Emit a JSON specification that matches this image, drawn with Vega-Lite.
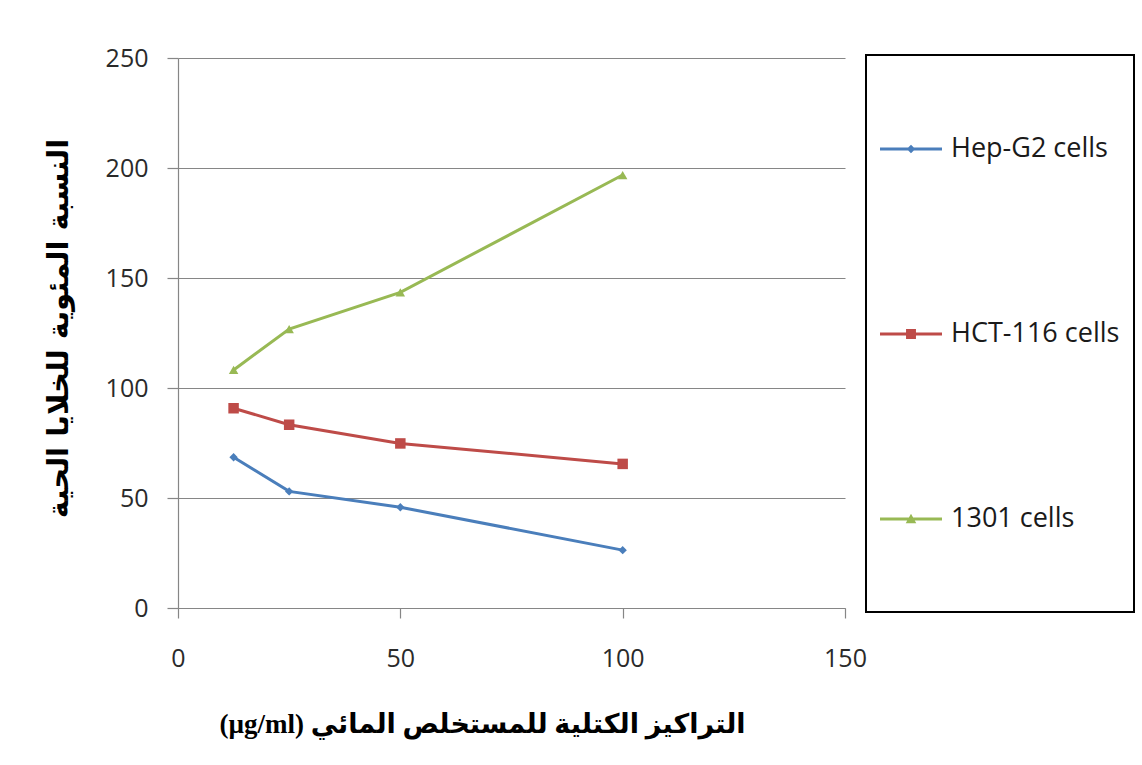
{
  "$schema": "https://vega.github.io/schema/vega-lite/v6.json",
  "width": 667,
  "height": 550,
  "autosize": {"type": "none"},
  "padding": {"left": 178, "top": 58, "right": 297, "bottom": 157},
  "background": "white",
  "config": {
    "view": {"stroke": null},
    "font": "Open Sans",
    "legend": {"strokeWidth": 2},
    "style": {"guide-label": {"lineHeight": 66}}
  },
  "data": {
    "values": [
      {"series": "Hep-G2 cells", "conc": 12.5, "value": 68.5},
      {"series": "Hep-G2 cells", "conc": 25, "value": 53},
      {"series": "Hep-G2 cells", "conc": 50, "value": 45.8},
      {"series": "Hep-G2 cells", "conc": 100, "value": 26.3},
      {"series": "HCT-116 cells", "conc": 12.5, "value": 90.8},
      {"series": "HCT-116 cells", "conc": 25, "value": 83.3},
      {"series": "HCT-116 cells", "conc": 50, "value": 74.8},
      {"series": "HCT-116 cells", "conc": 100, "value": 65.5},
      {"series": "1301 cells", "conc": 12.5, "value": 108.2},
      {"series": "1301 cells", "conc": 25, "value": 126.8},
      {"series": "1301 cells", "conc": 50, "value": 143.5},
      {"series": "1301 cells", "conc": 100, "value": 196.8}
    ]
  },
  "encoding": {
    "x": {
      "field": "conc", "type": "quantitative",
      "scale": {"domain": [0, 150], "nice": false, "zero": true},
      "axis": {
        "values": [0, 50, 100, 150], "grid": false,
        "domainColor": "#868686", "domainWidth": 1.2,
        "tickColor": "#868686", "tickSize": 10, "tickWidth": 1.2,
        "labelFont": "Open Sans", "labelFontSize": 25, "labelColor": "#2a2a2a",
        "labelPadding": 28, "labelFlush": false,
        "title": "(µg/ml) التراكيز الكتلية للمستخلص المائي",
        "titleFont": "'Liberation Serif', 'DejaVu Sans'",
        "titleFontSize": 27, "titleFontWeight": "bold", "titleColor": "#000000",
        "titleX": 304, "titleY": 116, "titleAlign": "center", "titleBaseline": "middle"
      }
    },
    "y": {
      "field": "value", "type": "quantitative",
      "scale": {"domain": [0, 250], "nice": false},
      "axis": {
        "values": [0, 50, 100, 150, 200, 250],
        "grid": true, "gridColor": "#868686", "gridWidth": 1.2,
        "domainColor": "#868686", "domainWidth": 1.2,
        "tickColor": "#868686", "tickSize": 11, "tickWidth": 1.2,
        "labelFont": "Open Sans", "labelFontSize": 25, "labelColor": "#2a2a2a",
        "labelPadding": 19,
        "title": "النسبة المئوية للخلايا الحية",
        "titleFont": "'DejaVu Sans'",
        "titleFontSize": 29, "titleFontWeight": "bold", "titleColor": "#000000",
        "titleAngle": -90, "titleX": -120, "titleY": 270,
        "titleAlign": "center", "titleBaseline": "middle"
      }
    },
    "color": {
      "field": "series", "type": "nominal",
      "scale": {
        "domain": ["Hep-G2 cells", "HCT-116 cells", "1301 cells"],
        "range": ["#4A7EBB", "#BE4B48", "#98B954"]
      },
      "legend": null
    }
  },
  "layer": [
    {
      "mark": {"type": "point", "filled": true, "opacity": 0, "size": 3844},
      "encoding": {
        "color": {
          "field": "series", "type": "nominal",
          "legend": {
            "title": " ", "titleFontSize": 10, "titlePadding": 39,
            "orient": "none", "legendX": 688, "legendY": -3,
            "padding": 14, "strokeColor": "#000000", "fillColor": "#ffffff",
            "cornerRadius": 0,
            "labelFont": "Open Sans", "labelFontSize": 27, "labelColor": "#1a1a1a",
            "labelOffset": 9, "labelLimit": 400, "rowPadding": 75,
            "symbolSize": 3844, "symbolOpacity": 1, "symbolStrokeWidth": 0,
            "labelExpr": "[datum.label, '']"
          }
        },
        "shape": {
          "field": "series", "type": "nominal",
          "scale": {
            "domain": ["Hep-G2 cells", "HCT-116 cells", "1301 cells"],
            "range": [
              "M-1,-0.048L1,-0.048L1,0.048L-1,0.048Z M0,-0.14L0.14,0L0,0.14L-0.14,0Z",
              "M-1,-0.048L1,-0.048L1,0.048L-1,0.048Z M-0.16,-0.16L0.16,-0.16L0.16,0.16L-0.16,0.16Z",
              "M-1,-0.048L1,-0.048L1,0.048L-1,0.048Z M0,-0.17L0.17,0.14L-0.17,0.14Z"
            ]
          },
          "legend": {
            "title": " ", "titleFontSize": 10, "titlePadding": 39,
            "orient": "none", "legendX": 688, "legendY": -3,
            "padding": 14, "strokeColor": "#000000", "fillColor": "#ffffff",
            "cornerRadius": 0,
            "labelFont": "Open Sans", "labelFontSize": 27, "labelColor": "#1a1a1a",
            "labelOffset": 9, "labelLimit": 400, "rowPadding": 75,
            "symbolSize": 3844, "symbolOpacity": 1, "symbolStrokeWidth": 0,
            "labelExpr": "[datum.label, '']"
          }
        }
      }
    },
    {"mark": {"type": "line", "strokeWidth": 3}},
    {
      "transform": [{"filter": "datum.series === 'Hep-G2 cells'"}],
      "mark": {"type": "point", "shape": "diamond", "filled": true, "size": 70, "opacity": 1}
    },
    {
      "transform": [{"filter": "datum.series === 'HCT-116 cells'"}],
      "mark": {"type": "point", "shape": "square", "filled": true, "size": 110, "opacity": 1}
    },
    {
      "transform": [{"filter": "datum.series === '1301 cells'"}],
      "mark": {"type": "point", "shape": "triangle-up", "filled": true, "size": 90, "opacity": 1}
    }
  ]
}
